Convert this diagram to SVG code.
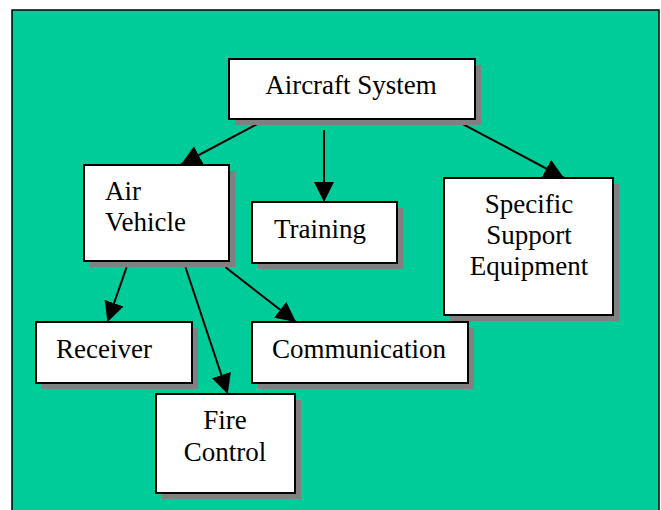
<svg xmlns="http://www.w3.org/2000/svg" width="661" height="510" viewBox="0 0 661 510">
<style>
.bg{fill:#00CC99;stroke:#000;stroke-width:1.5}
.sh{fill:#808080}
.bx{fill:#fff;stroke:#000;stroke-width:2}
.t{font-family:"Liberation Serif","Times New Roman",serif;font-size:27px;fill:#000}
.c{text-anchor:middle}
.ln{stroke:#000;stroke-width:2;fill:none;marker-end:url(#ah)}
</style>
<defs>
<marker id="ah" markerUnits="userSpaceOnUse" markerWidth="20" markerHeight="20" refX="20" refY="10" orient="auto" viewBox="0 0 20 20">
<path d="M0,0 L20,10 L0,20 Z" fill="#000"/>
</marker>
</defs>
<rect class="bg" x="12" y="10" width="647" height="520"/>
<g id="connectors">
<line class="ln" x1="260.5" y1="122.3" x2="181" y2="164.5"/>
<line class="ln" x1="324" y1="130" x2="324" y2="202"/>
<line class="ln" x1="459.5" y1="122.3" x2="564" y2="178"/>
<line class="ln" x1="126.5" y1="267.3" x2="107.5" y2="322"/>
<line class="ln" x1="185.5" y1="267.3" x2="227.7" y2="394"/>
<line class="ln" x1="225.5" y1="267.3" x2="296" y2="322"/>
</g>
<g id="aircraft-system">
<rect class="sh" x="235" y="65" width="246" height="60"/>
<rect class="bx" x="229" y="59" width="246" height="60"/>
<text class="t c" x="351" y="94">Aircraft System</text>
</g>
<g id="air-vehicle">
<rect class="sh" x="90" y="171" width="145" height="96"/>
<rect class="bx" x="84" y="165" width="145" height="96"/>
<text class="t" x="105" y="200">Air</text>
<text class="t" x="105" y="231">Vehicle</text>
</g>
<g id="training">
<rect class="sh" x="258" y="208" width="145" height="61"/>
<rect class="bx" x="252" y="202" width="145" height="61"/>
<text class="t c" x="320" y="238">Training</text>
</g>
<g id="specific-support-equipment">
<rect class="sh" x="450" y="184" width="169" height="137"/>
<rect class="bx" x="444" y="178" width="169" height="137"/>
<text class="t c" x="529" y="213">Specific</text>
<text class="t c" x="529" y="244">Support</text>
<text class="t c" x="529" y="275">Equipment</text>
</g>
<g id="receiver">
<rect class="sh" x="42" y="328" width="156" height="61"/>
<rect class="bx" x="36" y="322" width="156" height="61"/>
<text class="t" x="56" y="358">Receiver</text>
</g>
<g id="communication">
<rect class="sh" x="258" y="328" width="216" height="61"/>
<rect class="bx" x="252" y="322" width="216" height="61"/>
<text class="t c" x="359" y="358">Communication</text>
</g>
<g id="fire-control">
<rect class="sh" x="162" y="400" width="139" height="99"/>
<rect class="bx" x="156" y="394" width="139" height="99"/>
<text class="t c" x="225" y="429">Fire</text>
<text class="t c" x="225" y="461">Control</text>
</g>
</svg>
